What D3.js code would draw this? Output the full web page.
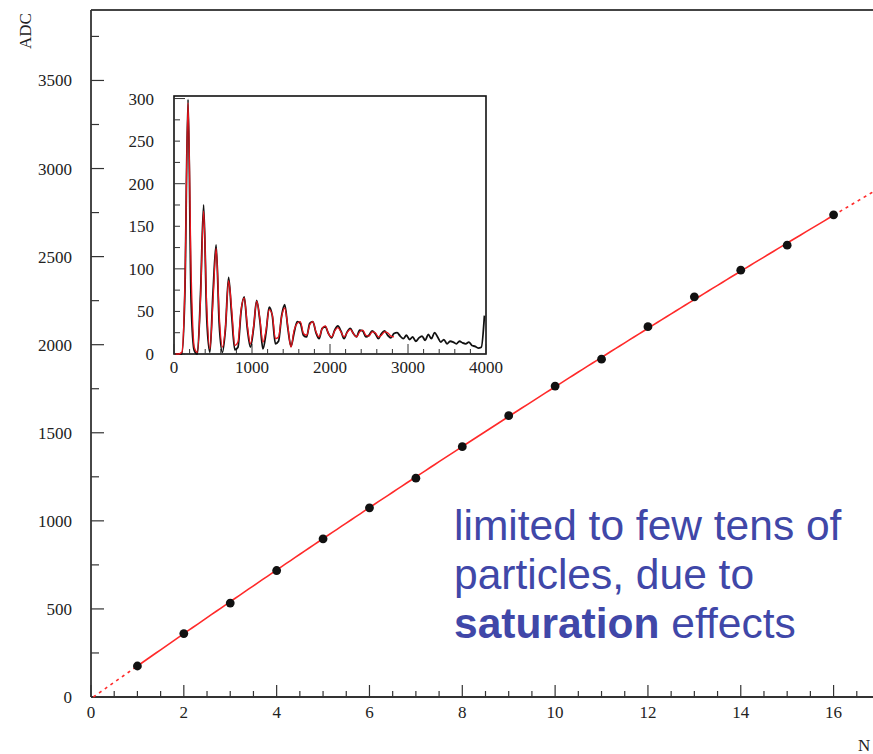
<!DOCTYPE html>
<html>
<head>
<meta charset="utf-8">
<script src="https://d3js.org/d3.v7.min.js"></script>
<style>
	body { margin: 0; background: #fff; }
	svg { display: block; }
	.lbl { font-family: "Liberation Serif", "DejaVu Serif", serif; font-size: 17px; fill: #222; }
	.note { font-family: "Liberation Sans", Arial, sans-serif; font-size: 42.5px; fill: #4047a8; }
</style>
</head>
<body>
<svg width="873" height="754"></svg>
<script>
// main plot: mean ADC vs number of particles
var nParticles = [1, 2, 3, 4, 5, 6, 7, 8, 9, 10, 11, 12, 13, 14, 15, 16];
var adcMean = [176, 360, 533, 718, 898, 1074, 1242, 1421, 1597, 1765, 1918, 2102, 2272, 2423, 2565, 2737];
// saturating fit: c + a*N + b*N^2
var fitA = 186.3;
var fitB = -0.925;
var fitC = -9.4;

var xTicksMain = [0, 2, 4, 6, 8, 10, 12, 14, 16];
var yTicksMain = [0, 500, 1000, 1500, 2000, 2500, 3000, 3500];

// inset: ADC spectrum, bins of 40 counts wide
var specBinWidth = 40;
var specCounts = [0, 0, 0, 75, 299, 60, 4, 0, 70, 175,
	42, 2, 72, 128, 35, 2, 30, 90, 45, 5,
	8, 50, 67, 30, 8, 30, 63, 40, 6, 25,
	55, 45, 12, 15, 45, 58, 30, 9, 25, 38,
	36, 22, 20, 36, 38, 25, 18, 30, 32, 24,
	19, 28, 33, 27, 18, 26, 30, 24, 20, 28,
	27, 20, 22, 27, 24, 18, 24, 27, 22, 19,
	24, 25, 21, 18, 22, 17, 20, 15, 19, 21,
	16, 23, 18, 25, 20, 14, 17, 12, 15, 14,
	12, 15, 13, 12, 14, 10, 9, 7, 8, 45];
var specFit = [0, 0, 2, 80, 295, 95, 8, 2, 65, 168,
	55, 6, 62, 124, 45, 8, 32, 86, 52, 10,
	14, 52, 66, 34, 12, 32, 62, 42, 14, 28,
	52, 46, 18, 20, 44, 54, 32, 8, 28, 36,
	38, 24, 22, 34, 38, 26, 20, 30, 33, 24,
	20, 27, 31, 26, 20, 25, 29, 24, 20, 26,
	28, 22, 21, 26, 25, 20, 22, 26, 25, 21, 20];
var xTicksInset = [0, 1000, 2000, 3000, 4000];
var yTicksInset = [0, 50, 100, 150, 200, 250, 300];

var svg = d3.select("svg");

var x = d3.scaleLinear().domain([0, 17]).range([91, 880]);
var y = d3.scaleLinear().domain([0, 3900]).range([697, 10]);

// frame (top line only visible, right side is cut off)
svg.append("line")
	.attr("x1", 91).attr("x2", 873)
	.attr("y1", y(3900)).attr("y2", y(3900))
	.attr("stroke", "#444").attr("stroke-width", 2);

// axes, ROOT style: ticks pointing inward
var xAxis = svg.append("g");
xAxis.append("line")
	.attr("x1", x(0)).attr("x2", 873)
	.attr("y1", y(0)).attr("y2", y(0))
	.attr("stroke", "#333").attr("stroke-width", 1.8);
xAxis.selectAll("line.tick")
	.data(d3.range(0, 17.01, 0.5))
	.enter().append("line")
		.attr("class", "tick")
		.attr("x1", function(d) { return x(d); })
		.attr("x2", function(d) { return x(d); })
		.attr("y1", y(0))
		.attr("y2", function(d) { return y(0) - (d % 2 === 0 ? 12 : 6); })
		.attr("stroke", "#333").attr("stroke-width", 1.2);
xAxis.selectAll("text")
	.data(xTicksMain)
	.enter().append("text")
		.attr("class", "lbl")
		.attr("x", function(d) { return x(d); })
		.attr("y", 718)
		.attr("text-anchor", "middle")
		.text(function(d) { return d; });

var yAxis = svg.append("g");
yAxis.append("line")
	.attr("x1", x(0)).attr("x2", x(0))
	.attr("y1", y(0)).attr("y2", y(3900))
	.attr("stroke", "#333").attr("stroke-width", 1.8);
yAxis.selectAll("line.tick")
	.data(d3.range(0, 3900, 250))
	.enter().append("line")
		.attr("class", "tick")
		.attr("x1", x(0))
		.attr("x2", function(d) { return x(0) + (d % 500 === 0 ? 13 : 8); })
		.attr("y1", function(d) { return y(d); })
		.attr("y2", function(d) { return y(d); })
		.attr("stroke", "#333").attr("stroke-width", 1.2);
yAxis.selectAll("text")
	.data(yTicksMain)
	.enter().append("text")
		.attr("class", "lbl")
		.attr("x", 72)
		.attr("y", function(d) { return y(d) + 6; })
		.attr("text-anchor", "end")
		.text(function(d) { return d; });

svg.append("text")
	.attr("class", "lbl")
	.attr("transform", "translate(31,31) rotate(-90)")
	.attr("text-anchor", "middle")
	.text("ADC");

svg.append("text")
	.attr("class", "lbl")
	.attr("x", 858).attr("y", 751)
	.text("N");

// fit: solid over the fitted range, dashed extrapolation
function fitAt(n) { return fitC + fitA * n + fitB * n * n; }
var fitLine = d3.line()
	.x(function(d) { return x(d); })
	.y(function(d) { return y(fitAt(d)); });

svg.append("path")
	.attr("d", fitLine(d3.range(0.05, 1.001, 0.05)))
	.attr("stroke", "#ff2a2a").attr("stroke-width", 1.6)
	.attr("stroke-dasharray", "3,4").attr("fill", "none");
svg.append("path")
	.attr("d", fitLine(d3.range(16, 17.001, 0.05)))
	.attr("stroke", "#ff2a2a").attr("stroke-width", 1.6)
	.attr("stroke-dasharray", "3,4").attr("fill", "none");
svg.append("path")
	.attr("d", fitLine(d3.range(1, 16.001, 0.1)))
	.attr("stroke", "#ff2a2a").attr("stroke-width", 1.6)
	.attr("fill", "none");

svg.append("g").selectAll("circle")
	.data(nParticles)
	.enter().append("circle")
		.attr("cx", function(d) { return x(d); })
		.attr("cy", function(d, i) { return y(adcMean[i]); })
		.attr("r", 4.4)
		.attr("fill", "#111");

// ---- inset spectrum ----
var ix = d3.scaleLinear().domain([0, 4000]).range([174, 486]);
var iy = d3.scaleLinear().domain([0, 303]).range([354, 96]);

var inset = svg.append("g");
inset.append("rect")
	.attr("x", ix(0)).attr("y", iy(303))
	.attr("width", ix(4000) - ix(0)).attr("height", iy(0) - iy(303))
	.attr("fill", "#fff").attr("stroke", "#111").attr("stroke-width", 1.6);

inset.selectAll("line.xt")
	.data(d3.range(0, 4001, 200))
	.enter().append("line")
		.attr("class", "xt")
		.attr("x1", function(d) { return ix(d); })
		.attr("x2", function(d) { return ix(d); })
		.attr("y1", iy(0))
		.attr("y2", function(d) { return iy(0) - (d % 1000 === 0 ? 10 : 5); })
		.attr("stroke", "#333").attr("stroke-width", 1);
inset.selectAll("line.yt")
	.data(d3.range(0, 301, 25))
	.enter().append("line")
		.attr("class", "yt")
		.attr("x1", ix(0))
		.attr("x2", function(d) { return ix(0) + (d % 100 === 0 ? 11 : 6); })
		.attr("y1", function(d) { return iy(d); })
		.attr("y2", function(d) { return iy(d); })
		.attr("stroke", "#333").attr("stroke-width", 1);

inset.selectAll("text.xl")
	.data(xTicksInset)
	.enter().append("text")
		.attr("class", "lbl xl")
		.attr("x", function(d) { return ix(d); })
		.attr("y", 373)
		.attr("text-anchor", "middle")
		.text(function(d) { return d; });
inset.selectAll("text.yl")
	.data(yTicksInset)
	.enter().append("text")
		.attr("class", "lbl yl")
		.attr("x", 154)
		.attr("y", function(d) { return iy(d) + 6; })
		.attr("text-anchor", "end")
		.text(function(d) { return d; });

var histLine = d3.line()
	.x(function(d, i) { return ix(i * specBinWidth + specBinWidth / 2); })
	.y(function(d) { return iy(d); })
	.curve(d3.curveMonotoneX);
var fitCurve = d3.line()
	.x(function(d, i) { return ix(i * specBinWidth + specBinWidth / 2); })
	.y(function(d) { return iy(d); })
	.curve(d3.curveMonotoneX);

inset.append("path")
	.attr("d", histLine(specCounts))
	.attr("stroke", "#111").attr("stroke-width", 1.8).attr("fill", "none");
inset.append("path")
	.attr("d", fitCurve(specFit))
	.attr("stroke", "#e8141c").attr("stroke-width", 1.3).attr("fill", "none");

// annotation
var note = svg.append("text").attr("class", "note");
note.append("tspan").attr("x", 454).attr("y", 540).text("limited to few tens of");
note.append("tspan").attr("x", 454).attr("y", 589).text("particles, due to");
var l3 = note.append("tspan").attr("x", 454).attr("y", 638);
l3.append("tspan").attr("font-weight", "bold").text("saturation");
l3.append("tspan").text(" effects");
</script>
</body>
</html>
